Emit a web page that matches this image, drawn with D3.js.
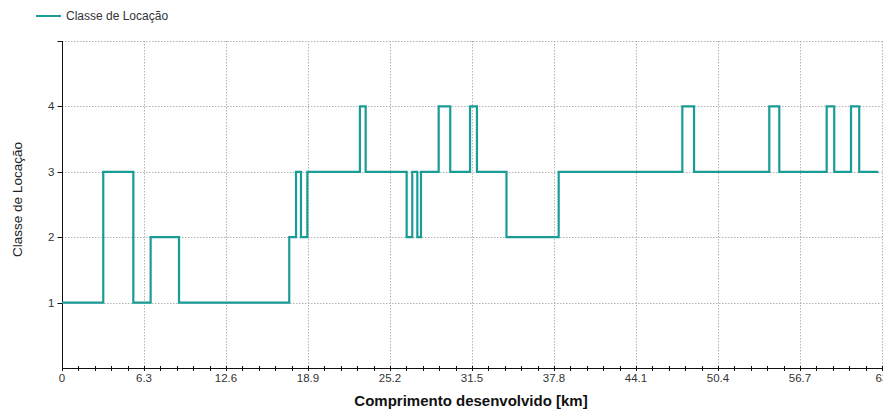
<!DOCTYPE html>
<html>
<head>
<meta charset="utf-8">
<script src="https://cdn.jsdelivr.net/npm/d3@7"></script>
<style>
  html, body { margin: 0; padding: 0; background: #fff; }
  svg { display: block; font-family: "Liberation Sans", Arial, sans-serif; }
</style>
</head>
<body>
<svg id="chart" width="883" height="412"></svg>
<script>
// Location class along the pipeline: each entry starts a new class segment (step-after)
const startKm = [0, 3.17, 5.48, 6.81, 8.99, 17.46, 17.98, 18.36, 18.85, 22.89, 23.33,
  26.48, 26.91, 27.30, 27.58, 28.94, 29.83, 31.35, 31.88, 34.15, 38.16, 47.66, 48.56,
  54.34, 55.11, 58.75, 59.33, 60.62, 61.25, 62.71];
const locClass = [1, 3, 1, 2, 1, 2, 3, 2, 3, 4, 3,
  2, 3, 2, 3, 4, 3, 4, 3, 2, 3, 4, 3,
  4, 3, 4, 3, 4, 3, 3];
const xTickLabels = ["0", "6.3", "12.6", "18.9", "25.2", "31.5", "37.8", "44.1", "50.4", "56.7", "63"];
const yTickLabels = ["1", "2", "3", "4"];
const seriesName = "Classe de Locação";

const svg = d3.select("#chart");
const plotL = 62, plotR = 882, plotT = 41, plotB = 368;
const lineColor = "#1a9c96";

const x = d3.scaleLinear().domain([0, 63]).range([plotL, plotR]);
const y = d3.scaleLinear().domain([0, 5]).range([plotB, plotT]);

const xMajor = xTickLabels.map(Number);
const xMinor = d3.range(0, 64, 1.26).map(v => +v.toFixed(2)).filter(v => v <= 63.001);

// dotted grid
const grid = svg.append("g").attr("stroke", "#b4b4b4").attr("stroke-dasharray", "1.5,1.5").attr("stroke-width", 1);
grid.selectAll("line.v").data(xMajor.filter(v => v > 0)).join("line").attr("class", "v")
  .attr("x1", d => Math.round(x(d)) + 0.5).attr("x2", d => Math.round(x(d)) + 0.5)
  .attr("y1", plotT).attr("y2", plotB);
grid.selectAll("line.h").data([1, 2, 3, 4, 5]).join("line").attr("class", "h")
  .attr("x1", plotL).attr("x2", plotR)
  .attr("y1", d => Math.round(y(d)) + 0.5).attr("y2", d => Math.round(y(d)) + 0.5);

// x axis with crossing minor ticks
const xAxis = svg.append("g").attr("transform", `translate(0,${plotB + 0.5})`);
xAxis.append("line").attr("x1", plotL).attr("x2", plotR).attr("stroke", "#111");
xAxis.selectAll("line.t").data(xMinor).join("line").attr("class", "t")
  .attr("x1", d => Math.round(x(d)) + 0.5).attr("x2", d => Math.round(x(d)) + 0.5)
  .attr("y1", -2.5).attr("y2", 2.5).attr("stroke", "#111");
xAxis.selectAll("text").data(xTickLabels).join("text")
  .attr("x", d => x(+d)).attr("y", 13)
  .attr("text-anchor", "middle").attr("font-size", 11.5).attr("fill", "#333")
  .text(d => d);

// y axis
const yAxis = svg.append("g").attr("transform", `translate(${plotL + 0.5},0)`);
yAxis.append("line").attr("y1", plotT).attr("y2", plotB).attr("stroke", "#111");
yAxis.selectAll("line.t").data([1, 2, 3, 4, 5]).join("line").attr("class", "t")
  .attr("x1", -5).attr("x2", 0)
  .attr("y1", d => Math.round(y(d)) + 0.5).attr("y2", d => Math.round(y(d)) + 0.5)
  .attr("stroke", "#111");
yAxis.selectAll("text").data(yTickLabels).join("text")
  .attr("x", -8).attr("y", d => y(+d)).attr("dy", "0.35em")
  .attr("text-anchor", "end").attr("font-size", 11.5).attr("fill", "#333")
  .text(d => d);

// axis titles
svg.append("text")
  .attr("transform", `translate(22,${(plotT + plotB) / 2 - 5}) rotate(-90)`)
  .attr("text-anchor", "middle").attr("font-size", 13.5).attr("fill", "#222")
  .text("Classe de Locação");
svg.append("text")
  .attr("x", 471).attr("y", 406)
  .attr("text-anchor", "middle").attr("font-size", 15).attr("font-weight", "bold").attr("fill", "#111")
  .text("Comprimento desenvolvido [km]");

// step series
const points = startKm.map((k, i) => [k, locClass[i]]);
const line = d3.line().x(d => x(d[0])).y(d => y(d[1])).curve(d3.curveStepAfter);
svg.append("path").datum(points)
  .attr("d", line).attr("fill", "none")
  .attr("stroke", lineColor).attr("stroke-width", 2.2);

// legend
const legend = svg.append("g");
legend.append("line").attr("x1", 36).attr("x2", 61).attr("y1", 16).attr("y2", 16)
  .attr("stroke", lineColor).attr("stroke-width", 2);
legend.append("text").attr("x", 66).attr("y", 20)
  .attr("font-size", 12).attr("fill", "#333").text(seriesName);
</script>
</body>
</html>
